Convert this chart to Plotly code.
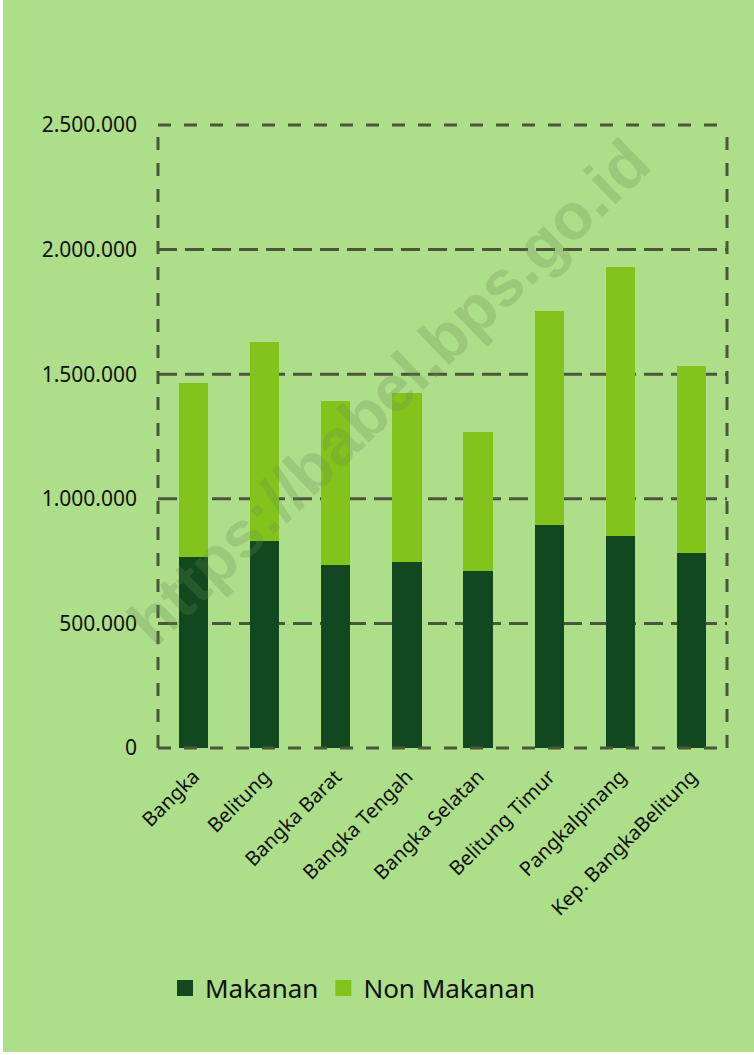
import plotly.graph_objects as go

# Regions and monthly per-capita expenditure (Rupiah), split by food / non-food
regions = ["Bangka", "Belitung", "Bangka Barat", "Bangka Tengah", "Bangka Selatan",
           "Belitung Timur", "Pangkalpinang", "Kep. BangkaBelitung"]
makanan = [766000, 830000, 734000, 746000, 710000, 894000, 850000, 782000]
total = [1464000, 1629000, 1392000, 1424000, 1268000, 1753000, 1930000, 1533000]
non_makanan = [t - m for t, m in zip(total, makanan)]

y_ticks = [0, 500000, 1000000, 1500000, 2000000, 2500000]
y_tick_text = ["0", "500.000", "1.000.000", "1.500.000", "2.000.000", "2.500.000"]

BG = "#ADDE8A"
DARK = "#11481F"
LIGHT = "#83C41C"
LINE = "#4B573A"
FONT = "Noto Sans"

fig = go.Figure()
fig.add_trace(go.Bar(x=regions, y=makanan, name="Makanan", marker_color=DARK,
                     marker_line_width=0, width=0.41, showlegend=False, legendgroup="m"))
fig.add_trace(go.Bar(x=regions, y=non_makanan, name="Non Makanan", marker_color=LIGHT,
                     marker_line_width=0, width=0.41, showlegend=False, legendgroup="n"))
# legend swatches
fig.add_trace(go.Scatter(x=[None], y=[None], mode="markers", name="Makanan",
                         marker=dict(symbol="square", size=16, color=DARK), legendgroup="m"))
fig.add_trace(go.Scatter(x=[None], y=[None], mode="markers", name="Non Makanan",
                         marker=dict(symbol="square", size=16, color=LIGHT), legendgroup="n"))

shapes = []
# page background with a thin white edge on the left and bottom
shapes.append(dict(type="rect", xref="paper", yref="paper", layer="below",
                   x0=(3 - 158) / 569, x1=(760 - 158) / 569,
                   y0=(748 - 1052) / 623, y1=(748 + 10) / 623,
                   fillcolor=BG, line=dict(width=0)))
# inner gridlines, behind the bars
for v in y_ticks[1:-1]:
    shapes.append(dict(type="line", xref="x domain", yref="y", x0=0, x1=1, y0=v, y1=v,
                       layer="below",
                       line=dict(color=LINE, width=3, dash="19px,8px")))
# dashed frame (paper-referenced so the strokes are not clipped)
frame = dict(color=LINE, width=3, dash="13px,13px")
for x0, x1, y0, y1 in [(0, 1, 1, 1), (0, 1, 0, 0), (0, 0, 0, 1), (1, 1, 0, 1)]:
    shapes.append(dict(type="line", xref="paper", yref="paper",
                       x0=x0, x1=x1, y0=y0, y1=y1, line=frame))

fig.update_layout(
    width=754, height=1055,
    margin=dict(l=158, r=27, t=125, b=307),
    paper_bgcolor="white",
    plot_bgcolor="rgba(0,0,0,0)",
    barmode="stack",
    font=dict(family=FONT, color="#111111"),
    shapes=shapes,
    xaxis=dict(showgrid=False, showline=False, zeroline=False, tickangle=-45,
               tickfont=dict(size=20), ticks="", ticklabelstandoff=12,
               range=[-0.5, len(regions) - 0.5]),
    yaxis=dict(range=[0, 2500000], tickvals=y_ticks, ticktext=y_tick_text,
               showgrid=False, zeroline=False, showline=False, ticks="",
               tickfont=dict(size=21), ticklabelstandoff=20),
    legend=dict(orientation="h", x=(165 - 158) / 569, xanchor="left",
                y=(748 - 988) / 623, yanchor="middle",
                font=dict(size=26), bgcolor="rgba(0,0,0,0)", itemsizing="trace"),
    annotations=[dict(text="<b>https://babel.bps.go.id</b>", xref="paper", yref="paper",
                      x=(388 - 158) / 569, y=(748 - 392) / 623, showarrow=False,
                      textangle=-44,
                      font=dict(family="Liberation Sans", size=65,
                                color="rgba(105,135,80,0.25)"))],
)

fig.write_html("out.html")
